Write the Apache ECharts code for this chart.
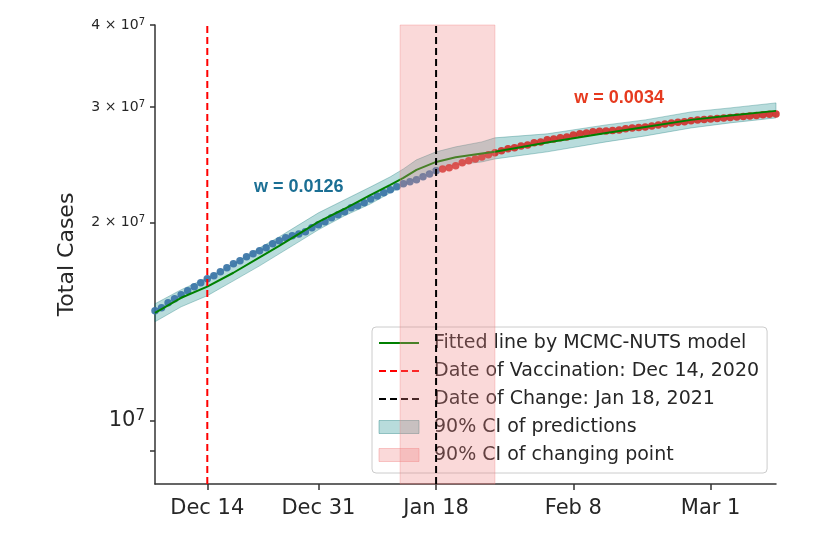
<!DOCTYPE html>
<html>
<head>
<meta charset="utf-8">
<title>Total Cases</title>
<style type="text/css">
    *{ margin:0; padding:0; }
    html,body{ background:#ffffff; }
    #main{ width:830px; height:537px; }
</style>
</head>
<body>
<div id="main"></div>
<script src="https://cdn.jsdelivr.net/npm/echarts@6/dist/echarts.min.js"></script>
<script type="text/javascript">
// daily total cases in millions, one value per day from firstDay
var firstDay = '2020-12-06';
var lastDay = '2021-03-11';
var casesM = [
    14.69,14.84,15.10,15.32,15.53,15.75,15.98,16.20,16.43,16.60,
    16.84,17.07,17.32,17.50,17.75,17.93,18.12,18.31,18.57,18.77,
    18.97,19.10,19.23,19.37,19.64,19.85,20.06,20.34,20.56,20.78,
    21.07,21.22,21.44,21.74,21.97,22.21,22.44,22.68,22.92,23.08,
    23.24,23.49,23.73,23.99,24.15,24.24,24.41,24.67,24.84,25.01,
    25.19,25.37,25.55,25.73,25.91,26.00,26.18,26.27,26.46,26.55,
    26.74,26.83,26.93,27.02,27.21,27.31,27.40,27.50,27.55,27.59,
    27.64,27.69,27.79,27.88,27.93,27.98,28.08,28.18,28.28,28.38,
    28.43,28.48,28.58,28.68,28.73,28.78,28.83,28.88,28.93,28.98,
    29.03,29.08,29.13,29.19,29.24,29.29
];
var lastBeforeChange = 43; // Jan 18 is the last blue point

// fitted line and its 90% CI (millions)
var fitDates = ['2020-12-06','2020-12-10','2020-12-14','2020-12-18','2020-12-22','2020-12-25',
    '2020-12-28','2020-12-31','2021-01-04','2021-01-08','2021-01-11','2021-01-13','2021-01-15',
    '2021-01-18','2021-01-21','2021-01-25','2021-01-27','2021-02-04','2021-02-13','2021-02-19',
    '2021-02-26','2021-03-04','2021-03-11'];
var fitM   = [14.58,15.37,15.98,16.78,17.71,18.44,19.23,20.06,21.00,22.05,22.84,23.40,24.07,
    24.75,25.15,25.50,25.64,26.50,27.40,27.98,28.68,29.13,29.60];
var ciHighM = [15.05,15.81,16.49,17.32,18.31,19.03,19.85,20.70,21.67,22.68,23.49,24.15,24.93,
    25.64,26.09,26.55,26.93,27.31,28.18,28.68,29.49,29.91,30.44];
var ciLowM  = [14.13,14.89,15.48,16.31,17.19,17.93,18.70,19.51,20.49,21.37,22.21,22.76,23.40,
    24.24,24.50,24.75,25.01,25.64,26.55,27.11,27.88,28.38,28.88];

var vaccDate = '2020-12-14';
var changeDate = '2021-01-18';
var changeCI = ['2021-01-12 12', '2021-01-27 00'];

var xTickDates = ['2020-12-14','2020-12-31','2021-01-18','2021-02-08','2021-03-01'];
var yLabelValues = [1e7, 2e7, 3e7, 4e7];
var yTickValues = [9e6, 1e7, 2e7, 3e7, 4e7];
var yMin = 8e6, yMax = 4e7;

var monthNames = ['Jan','Feb','Mar','Apr','May','Jun','Jul','Aug','Sep','Oct','Nov','Dec'];

function toTime(s) {
    var p = s.split(/[- ]/);
    return new Date(+p[0], +p[1] - 1, +p[2], p[3] ? +p[3] : 0).getTime();
}

var t0 = new Date(toTime(firstDay));
var blueData = [], redData = [];
for (var i = 0; i < casesM.length; i++) {
    var t = new Date(t0.getFullYear(), t0.getMonth(), t0.getDate() + i).getTime();
    (i <= lastBeforeChange ? blueData : redData).push([t, casesM[i] * 1e6]);
}
var fitTimes = fitDates.map(toTime);
var fitData = fitTimes.map(function (t, i) { return [t, fitM[i] * 1e6]; });

var FONT = 'DejaVu Sans';
var TXT = '#262626';

var myChart = echarts.init(document.getElementById('main'));

var option = {
    animation: false,
    backgroundColor: '#ffffff',
    grid: { left: 155, right: 54, top: 25, bottom: 53 },
    xAxis: {
        // timestamps on a plain value axis, labelled as dates
        type: 'value',
        min: toTime(firstDay),
        max: toTime(lastDay),
        scale: true,
        splitLine: { show: false },
        axisLine: { lineStyle: { color: '#333333', width: 1.5 } },
        axisTick: { customValues: xTickDates.map(toTime), length: 6, lineStyle: { color: '#333333', width: 1.5 } },
        axisLabel: {
            customValues: xTickDates.map(toTime),
            fontFamily: FONT, fontSize: 21, color: TXT, margin: 14,
            formatter: function (v) {
                var d = new Date(v);
                return monthNames[d.getMonth()] + ' ' + d.getDate();
            }
        }
    },
    yAxis: {
        type: 'log',
        logBase: 10,
        min: yMin,
        max: yMax,
        name: 'Total Cases',
        nameLocation: 'middle',
        nameGap: 77,
        nameTextStyle: { fontFamily: FONT, fontSize: 22, color: TXT },
        splitLine: { show: false },
        axisLine: { show: true, lineStyle: { color: '#333333', width: 1.5 } },
        axisTick: { show: true, customValues: yTickValues, length: 5, lineStyle: { color: '#333333', width: 1.5 } },
        axisLabel: {
            customValues: yLabelValues,
            margin: 10,
            formatter: function (v) {
                if (v < 1.5e7) return '{b|10}{bs|7}';
                return '{n|' + Math.round(v / 1e7) + ' × 10}{ns|7}';
            },
            rich: {
                b: { fontFamily: FONT, fontSize: 21, color: TXT, lineHeight: 24 },
                bs: { fontFamily: FONT, fontSize: 15, color: TXT, lineHeight: 14, verticalAlign: 'top' },
                n: { fontFamily: FONT, fontSize: 14, color: TXT, lineHeight: 16 },
                ns: { fontFamily: FONT, fontSize: 10, color: TXT, lineHeight: 10, verticalAlign: 'top' }
            }
        }
    },
    legend: {
        orient: 'vertical',
        left: 372, top: 327,
        padding: [6, 8, 8, 6],
        itemWidth: 40, itemHeight: 13, itemGap: 8,
        backgroundColor: 'rgba(255,255,255,0.8)',
        borderColor: '#cccccc', borderWidth: 1, borderRadius: 4,
        textStyle: { fontFamily: FONT, fontSize: 19, color: TXT, lineHeight: 20, padding: [0, 0, 0, 10] },
        data: [
            // opacity 0 hides the marker that ECharts puts on line icons
            { name: 'Fitted line by MCMC-NUTS model', itemStyle: { opacity: 0 } },
            { name: 'Date of Vaccination: Dec 14, 2020', itemStyle: { opacity: 0 } },
            { name: 'Date of Change: Jan 18, 2021', itemStyle: { opacity: 0 } },
            { name: '90% CI of predictions', icon: 'rect',
              itemStyle: { color: 'rgba(0,128,128,0.28)', borderColor: 'rgba(0,110,110,0.35)', borderWidth: 1 } },
            { name: '90% CI of changing point', icon: 'rect',
              itemStyle: { color: 'rgba(240,128,128,0.3)', borderColor: 'rgba(240,128,128,0.4)', borderWidth: 1 } }
        ]
    },
    series: [
        {
            name: '90% CI of predictions',
            type: 'custom',
            z: 1,
            data: fitData,
            itemStyle: { color: 'rgba(0,128,128,0.28)' },
            renderItem: function (params, api) {
                if (params.dataIndex !== 0) return;
                var pts = [], k;
                for (k = 0; k < fitTimes.length; k++) pts.push(api.coord([fitTimes[k], ciHighM[k] * 1e6]));
                for (k = fitTimes.length - 1; k >= 0; k--) pts.push(api.coord([fitTimes[k], ciLowM[k] * 1e6]));
                return {
                    type: 'polygon',
                    shape: { points: pts },
                    style: { fill: 'rgba(0,128,128,0.28)', stroke: 'rgba(0,110,110,0.3)', lineWidth: 1 }
                };
            }
        },
        {
            name: 'before change',
            type: 'scatter',
            z: 2,
            symbolSize: 7.5,
            itemStyle: { color: '#3a74a6', opacity: 0.92 },
            data: blueData,
            markPoint: {
                symbol: 'circle', symbolSize: 0,
                label: { show: true, position: 'inside', fontFamily: 'Liberation Sans', fontWeight: 'bold', fontSize: 18, color: '#1b6f94' },
                data: [{ coord: [toTime('2020-12-28'), 22.68e6], value: 'w = 0.0126' }]
            }
        },
        {
            name: 'after change',
            type: 'scatter',
            z: 2,
            symbolSize: 7.5,
            itemStyle: { color: '#d0312d', opacity: 0.92 },
            data: redData,
            markPoint: {
                symbol: 'circle', symbolSize: 0,
                label: { show: true, position: 'inside', fontFamily: 'Liberation Sans', fontWeight: 'bold', fontSize: 18, color: '#e63a1f' },
                data: [{ coord: [toTime('2021-02-15'), 30.98e6], value: 'w = 0.0034' }]
            }
        },
        {
            name: 'Fitted line by MCMC-NUTS model',
            type: 'line',
            z: 3,
            symbol: 'none',
            lineStyle: { color: '#008000', width: 2 },
            itemStyle: { color: '#008000' },
            data: fitData
        },
        {
            name: '90% CI of changing point',
            type: 'custom',
            z: 4,
            data: [[toTime(changeCI[0]), 1e7]],
            itemStyle: { color: 'rgba(240,128,128,0.3)' },
            renderItem: function (params, api) {
                var a = api.coord([toTime(changeCI[0]), yMax]);
                var b = api.coord([toTime(changeCI[1]), yMin]);
                return {
                    type: 'rect',
                    shape: { x: a[0], y: a[1], width: b[0] - a[0], height: b[1] - a[1] },
                    style: { fill: 'rgba(240,128,128,0.3)', stroke: 'rgba(240,128,128,0.35)', lineWidth: 1 }
                };
            }
        },
        {
            name: 'Date of Vaccination: Dec 14, 2020',
            type: 'line',
            z: 5,
            symbol: 'none',
            lineStyle: { color: '#ff0000', width: 2, type: [7, 4] },
            itemStyle: { color: '#ff0000' },
            data: [[toTime(vaccDate), yMin], [toTime(vaccDate), yMax]]
        },
        {
            name: 'Date of Change: Jan 18, 2021',
            type: 'line',
            z: 5,
            symbol: 'none',
            lineStyle: { color: '#000000', width: 2, type: [7, 4] },
            itemStyle: { color: '#000000' },
            data: [[toTime(changeDate), yMin], [toTime(changeDate), yMax]]
        }
    ]
};

myChart.setOption(option);
</script>
</body>
</html>
